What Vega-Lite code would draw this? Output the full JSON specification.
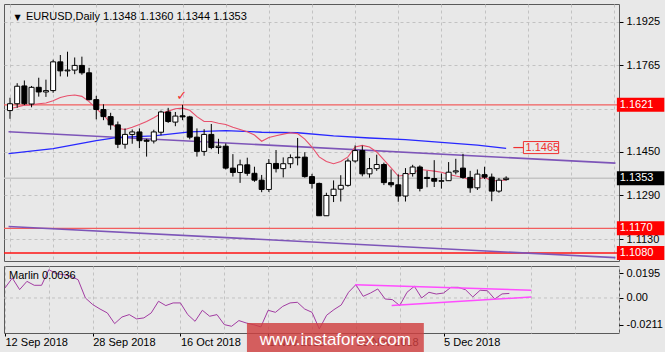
{
"$schema": "https://vega.github.io/schema/vega-lite/v6.json",
"background": "#e8e8e8",
"padding": {"left": 2, "top": 3, "right": 0, "bottom": 0},
"spacing": 3,
"config": {
  "view": {"stroke": "#5a5a5a", "strokeWidth": 1},
  "font": "Liberation Sans",
  "axis": {"labelFont": "Liberation Sans", "labelFontSize": 11, "labelColor": "#000000", "tickColor": "#000000", "title": null}
},
"datasets": {
  "bars": [
    {"i":0,"o":1.1600,"h":1.1647,"l":1.1570,"c":1.1625,"ma":1.1607},
    {"i":1,"o":1.1625,"h":1.1700,"l":1.1610,"c":1.1689,"ma":1.1613},
    {"i":2,"o":1.1690,"h":1.1710,"l":1.1620,"c":1.1625,"ma":1.1620},
    {"i":3,"o":1.1624,"h":1.1690,"l":1.1612,"c":1.1685,"ma":1.1621},
    {"i":4,"o":1.1685,"h":1.1720,"l":1.1651,"c":1.1668,"ma":1.1625},
    {"i":5,"o":1.1668,"h":1.1713,"l":1.1650,"c":1.1673,"ma":1.1628},
    {"i":6,"o":1.1673,"h":1.1786,"l":1.1665,"c":1.1778,"ma":1.1636},
    {"i":7,"o":1.1778,"h":1.1803,"l":1.1725,"c":1.1745,"ma":1.1648},
    {"i":8,"o":1.1745,"h":1.1815,"l":1.1724,"c":1.1748,"ma":1.1654},
    {"i":9,"o":1.1748,"h":1.1794,"l":1.1733,"c":1.1765,"ma":1.1657},
    {"i":10,"o":1.1765,"h":1.1797,"l":1.1731,"c":1.1738,"ma":1.1652},
    {"i":11,"o":1.1738,"h":1.1756,"l":1.1637,"c":1.1640,"ma":1.1633},
    {"i":12,"o":1.1640,"h":1.1654,"l":1.1568,"c":1.1604,"ma":1.1607},
    {"i":13,"o":1.1604,"h":1.1623,"l":1.1565,"c":1.1578,"ma":1.1584},
    {"i":14,"o":1.1578,"h":1.1592,"l":1.1530,"c":1.1548,"ma":1.1554},
    {"i":15,"o":1.1548,"h":1.1560,"l":1.1463,"c":1.1477,"ma":1.1535},
    {"i":16,"o":1.1477,"h":1.1535,"l":1.1461,"c":1.1513,"ma":1.1531},
    {"i":17,"o":1.1513,"h":1.1531,"l":1.1479,"c":1.1522,"ma":1.1539},
    {"i":18,"o":1.1522,"h":1.1535,"l":1.1463,"c":1.1490,"ma":1.1549},
    {"i":19,"o":1.1492,"h":1.1497,"l":1.1432,"c":1.1488,"ma":1.1560},
    {"i":20,"o":1.1489,"h":1.1530,"l":1.1480,"c":1.1522,"ma":1.1574},
    {"i":21,"o":1.1521,"h":1.1600,"l":1.1510,"c":1.1595,"ma":1.1589},
    {"i":22,"o":1.1595,"h":1.1610,"l":1.1555,"c":1.1560,"ma":1.1598},
    {"i":23,"o":1.1558,"h":1.1595,"l":1.1543,"c":1.1580,"ma":1.1607},
    {"i":24,"o":1.1581,"h":1.1621,"l":1.1565,"c":1.1577,"ma":1.1609},
    {"i":25,"o":1.1577,"h":1.1581,"l":1.1495,"c":1.1503,"ma":1.1601},
    {"i":26,"o":1.1503,"h":1.1535,"l":1.1432,"c":1.1451,"ma":1.1578},
    {"i":27,"o":1.1451,"h":1.1532,"l":1.1435,"c":1.1513,"ma":1.1560},
    {"i":28,"o":1.1513,"h":1.1551,"l":1.1459,"c":1.1465,"ma":1.1560},
    {"i":29,"o":1.1465,"h":1.1497,"l":1.1442,"c":1.1470,"ma":1.1554},
    {"i":30,"o":1.1470,"h":1.1480,"l":1.1385,"c":1.1390,"ma":1.1549},
    {"i":31,"o":1.1390,"h":1.1441,"l":1.1359,"c":1.1374,"ma":1.1539},
    {"i":32,"o":1.1374,"h":1.1421,"l":1.1336,"c":1.1402,"ma":1.1531},
    {"i":33,"o":1.1402,"h":1.1428,"l":1.1362,"c":1.1371,"ma":1.1523},
    {"i":34,"o":1.1371,"h":1.1395,"l":1.1340,"c":1.1346,"ma":1.1511},
    {"i":35,"o":1.1346,"h":1.1365,"l":1.1302,"c":1.1312,"ma":1.1488},
    {"i":36,"o":1.1312,"h":1.1423,"l":1.1303,"c":1.1407,"ma":1.1502},
    {"i":37,"o":1.1407,"h":1.1456,"l":1.1374,"c":1.1388,"ma":1.1508},
    {"i":38,"o":1.1388,"h":1.1429,"l":1.1356,"c":1.1406,"ma":1.1514},
    {"i":39,"o":1.1406,"h":1.1440,"l":1.1390,"c":1.1428,"ma":1.1519},
    {"i":40,"o":1.1428,"h":1.1500,"l":1.1400,"c":1.1430,"ma":1.1516},
    {"i":41,"o":1.1430,"h":1.1448,"l":1.1355,"c":1.1359,"ma":1.1496},
    {"i":42,"o":1.1359,"h":1.1369,"l":1.1315,"c":1.1334,"ma":1.1467},
    {"i":43,"o":1.1334,"h":1.1337,"l":1.1215,"c":1.1216,"ma":1.1431},
    {"i":44,"o":1.1216,"h":1.1300,"l":1.1216,"c":1.1290,"ma":1.1414},
    {"i":45,"o":1.1290,"h":1.1345,"l":1.1266,"c":1.1313,"ma":1.1406},
    {"i":46,"o":1.1313,"h":1.1364,"l":1.1268,"c":1.1327,"ma":1.1414},
    {"i":47,"o":1.1327,"h":1.1425,"l":1.1322,"c":1.1416,"ma":1.1431},
    {"i":48,"o":1.1416,"h":1.1473,"l":1.1410,"c":1.1454,"ma":1.1467},
    {"i":49,"o":1.1454,"h":1.1472,"l":1.1360,"c":1.1369,"ma":1.1473},
    {"i":50,"o":1.1369,"h":1.1427,"l":1.1355,"c":1.1388,"ma":1.1467},
    {"i":51,"o":1.1388,"h":1.1439,"l":1.1380,"c":1.1403,"ma":1.1449},
    {"i":52,"o":1.1403,"h":1.1410,"l":1.1328,"c":1.1337,"ma":1.1420},
    {"i":53,"o":1.1337,"h":1.1385,"l":1.1320,"c":1.1329,"ma":1.1391},
    {"i":54,"o":1.1329,"h":1.1367,"l":1.1267,"c":1.1288,"ma":1.1361},
    {"i":55,"o":1.1288,"h":1.1390,"l":1.1268,"c":1.1370,"ma":1.1364},
    {"i":56,"o":1.1370,"h":1.1402,"l":1.1359,"c":1.1394,"ma":1.1373},
    {"i":57,"o":1.1394,"h":1.1400,"l":1.1305,"c":1.1316,"ma":1.1385},
    {"i":58,"o":1.1356,"h":1.1380,"l":1.1320,"c":1.1352,"ma":1.1382},
    {"i":59,"o":1.1352,"h":1.1419,"l":1.1321,"c":1.1342,"ma":1.1379},
    {"i":60,"o":1.1342,"h":1.1370,"l":1.1315,"c":1.1344,"ma":1.1375},
    {"i":61,"o":1.1344,"h":1.1412,"l":1.1343,"c":1.1375,"ma":1.1367},
    {"i":62,"o":1.1376,"h":1.1424,"l":1.1367,"c":1.1380,"ma":1.1361},
    {"i":63,"o":1.1390,"h":1.1442,"l":1.1351,"c":1.1356,"ma":1.1356},
    {"i":64,"o":1.1356,"h":1.1380,"l":1.1300,"c":1.1318,"ma":1.1347},
    {"i":65,"o":1.1318,"h":1.1385,"l":1.1310,"c":1.1368,"ma":1.1350},
    {"i":66,"o":1.1366,"h":1.1395,"l":1.1350,"c":1.1357,"ma":1.1356},
    {"i":67,"o":1.1357,"h":1.1370,"l":1.1269,"c":1.1306,"ma":1.1344},
    {"i":68,"o":1.1306,"h":1.1354,"l":1.1300,"c":1.1346,"ma":1.1344},
    {"i":69,"o":1.1348,"h":1.1360,"l":1.1344,"c":1.1353,"ma":1.1347}
  ],
  "blue": [
    {"i":-0.2,"v":1.1443},{"i":6,"v":1.1461},{"i":12,"v":1.1490},{"i":15,"v":1.1502},
    {"i":20,"v":1.1508},{"i":25,"v":1.1522},{"i":30,"v":1.1527},{"i":35,"v":1.1521},
    {"i":40,"v":1.1519},{"i":45,"v":1.1508},{"i":50,"v":1.1500},{"i":55,"v":1.1494},
    {"i":60,"v":1.1484},{"i":65,"v":1.1474},{"i":69,"v":1.1462}
  ],
  "chan": [
    {"g":"u","i":-0.2,"v":1.1523},{"g":"u","i":84.2,"v":1.1408},
    {"g":"l","i":-0.2,"v":1.1177},{"g":"l","i":84.2,"v":1.1063}
  ],
  "levels": [
    {"v":1.1353,"k":"bid"},{"v":1.1621,"k":"r"},{"v":1.1170,"k":"r"},{"v":1.1080,"k":"rr"}
  ],
  "tags": [
    {"v":1.1621,"t":"1.1621","k":"red"},{"v":1.1353,"t":"1.1353","k":"black"},
    {"v":1.1170,"t":"1.1170","k":"red"},{"v":1.1080,"t":"1.1080","k":"red"}
  ],
  "osc": [
    {"i":0,"m":0.0079},{"i":1,"m":0.0157},{"i":2,"m":0.0066},{"i":3,"m":0.0131},{"i":4,"m":0.0100},
    {"i":5,"m":0.0100},{"i":6,"m":0.0223},{"i":7,"m":0.0192},{"i":8,"m":0.0184},{"i":9,"m":0.0171},
    {"i":10,"m":0.0144},{"i":11,"m":0.0000},{"i":12,"m":-0.0052},{"i":13,"m":-0.0087},{"i":14,"m":-0.0118},
    {"i":15,"m":-0.0202},{"i":16,"m":-0.0150},{"i":17,"m":-0.0131},{"i":18,"m":-0.0165},{"i":19,"m":-0.0157},
    {"i":20,"m":-0.0118},{"i":21,"m":-0.0026},{"i":22,"m":-0.0060},{"i":23,"m":-0.0039},{"i":24,"m":-0.0039},
    {"i":25,"m":-0.0131},{"i":26,"m":-0.0184},{"i":27,"m":-0.0097},{"i":28,"m":-0.0144},{"i":29,"m":-0.0131},
    {"i":30,"m":-0.0210},{"i":31,"m":-0.0223},{"i":32,"m":-0.0178},{"i":33,"m":-0.0197},{"i":34,"m":-0.0210},
    {"i":35,"m":-0.0228},{"i":36,"m":-0.0097},{"i":37,"m":-0.0113},{"i":38,"m":-0.0066},{"i":39,"m":-0.0039},
    {"i":40,"m":-0.0034},{"i":41,"m":-0.0087},{"i":42,"m":-0.0113},{"i":43,"m":-0.0244},{"i":44,"m":-0.0136},
    {"i":45,"m":-0.0092},{"i":46,"m":-0.0055},{"i":47,"m":0.0045},{"i":48,"m":0.0105},{"i":49,"m":0.0013},
    {"i":50,"m":0.0039},{"i":51,"m":0.0071},{"i":52,"m":-0.0008},{"i":53,"m":-0.0013},{"i":54,"m":-0.0060},
    {"i":55,"m":0.0045},{"i":56,"m":0.0092},{"i":57,"m":0.0000},{"i":58,"m":0.0045},{"i":59,"m":0.0031},
    {"i":60,"m":0.0039},{"i":61,"m":0.0084},{"i":62,"m":0.0084},{"i":63,"m":0.0065},{"i":64,"m":0.0008},
    {"i":65,"m":0.0061},{"i":66,"m":0.0057},{"i":67,"m":-0.0008},{"i":68,"m":0.0032},{"i":69,"m":0.0036}
  ],
  "trend": [
    {"g":"u","i":47.9,"v":0.0105},{"g":"u","i":72.0,"v":0.0061},
    {"g":"l","i":52.9,"v":-0.0060},{"g":"l","i":72.0,"v":0.0008}
  ]
},
"vconcat": [
  {
    "width": 615, "height": 257,
    "layer": [
      {"data": {"name": "levels"},
       "mark": {"type": "rule", "strokeWidth": 1.3},
       "encoding": {
         "y": {"field": "v", "type": "quantitative", "scale": {"domain": [1.1069, 1.1971], "nice": false, "zero": false},
               "axis": {"orient": "right", "values": [1.1925, 1.1765, 1.1605, 1.145, 1.129, 1.113], "tickCount": 20,
                        "labelExpr": "abs(datum.value - 1.1605) < 0.0001 ? '' : format(datum.value, '.4f')",
                        "grid": true, "gridColor": "#c2c2c2", "gridDash": [3, 3], "domain": false, "tickSize": 4,
                        "labelPadding": 3, "title": null, "labelOverlap": false, "labelFlush": false, "labelBound": false}},
         "color": {"condition": [{"test": "datum.k == 'bid'", "value": "#c4c4c4"}, {"test": "datum.k == 'rr'", "value": "#ff1414"}], "value": "#f25e5e"}
       }},
      {"data": {"name": "chan"},
       "mark": {"type": "line", "clip": true, "strokeWidth": 1.6, "color": "#7d55b8"},
       "encoding": {
         "x": {"field": "i", "type": "quantitative", "scale": {"domain": [-0.137, 84.0], "nice": false, "zero": false},
               "axis": {"values": [0,6,12,18,24,30,36,42,48,54,60,66,72,78,84], "tickCount": 30, "labels": false, "ticks": false, "domain": false,
                        "grid": true, "gridColor": "#c2c2c2", "gridDash": [3, 3], "title": null, "minExtent": 0, "maxExtent": 0}},
         "y": {"field": "v", "type": "quantitative", "scale": {"domain": [1.1069, 1.1971], "nice": false, "zero": false}},
         "detail": {"field": "g"}
       }},
      {"data": {"name": "blue"},
       "mark": {"type": "line", "clip": true, "strokeWidth": 1.3, "color": "#2828ff"},
       "encoding": {
         "x": {"field": "i", "type": "quantitative", "scale": {"domain": [-0.137, 84.0], "nice": false, "zero": false}},
         "y": {"field": "v", "type": "quantitative", "scale": {"domain": [1.1069, 1.1971], "nice": false, "zero": false}}
       }},
      {"data": {"name": "bars"},
       "mark": {"type": "line", "clip": true, "strokeWidth": 1.1, "color": "#e8506c"},
       "encoding": {
         "x": {"field": "i", "type": "quantitative", "scale": {"domain": [-0.137, 84.0], "nice": false, "zero": false}},
         "y": {"field": "ma", "type": "quantitative", "scale": {"domain": [1.1069, 1.1971], "nice": false, "zero": false}}
       }},
      {"data": {"name": "bars"},
       "mark": {"type": "rule", "clip": true, "strokeWidth": 1, "color": "#000000"},
       "encoding": {
         "x": {"field": "i", "type": "quantitative", "scale": {"domain": [-0.137, 84.0], "nice": false, "zero": false}},
         "y": {"field": "l", "type": "quantitative", "scale": {"domain": [1.1069, 1.1971], "nice": false, "zero": false}},
         "y2": {"field": "h"}
       }},
      {"data": {"name": "bars"},
       "mark": {"type": "bar", "clip": true, "size": 5, "stroke": "#000000", "strokeWidth": 1},
       "encoding": {
         "x": {"field": "i", "type": "quantitative", "scale": {"domain": [-0.137, 84.0], "nice": false, "zero": false}},
         "y": {"field": "o", "type": "quantitative", "scale": {"domain": [1.1069, 1.1971], "nice": false, "zero": false}},
         "y2": {"field": "c"},
         "fill": {"condition": {"test": "datum.c >= datum.o", "value": "#ffffff"}, "value": "#000000"}
       }},
      {"data": {"values": [{}]},
       "mark": {"type": "rule", "color": "#f03030", "strokeWidth": 1.2},
       "encoding": {
         "x": {"datum": 70.0, "type": "quantitative", "scale": {"domain": [-0.137, 84.0], "nice": false, "zero": false}},
         "x2": {"datum": 71.4},
         "y": {"datum": 1.1465, "type": "quantitative", "scale": {"domain": [1.1069, 1.1971], "nice": false, "zero": false}}
       }},
      {"data": {"values": [{}]},
       "mark": {"type": "rect", "fill": "#e8e8e8", "stroke": "#f03030", "strokeWidth": 1},
       "encoding": {
         "x": {"datum": 71.4, "type": "quantitative", "scale": {"domain": [-0.137, 84.0], "nice": false, "zero": false}},
         "x2": {"datum": 76.3},
         "y": {"datum": 1.1487, "type": "quantitative", "scale": {"domain": [1.1069, 1.1971], "nice": false, "zero": false}},
         "y2": {"datum": 1.1443}
       }},
      {"data": {"values": [{}]},
       "mark": {"type": "text", "align": "left", "baseline": "middle", "font": "Liberation Sans", "fontSize": 11, "color": "#f03030"},
       "encoding": {
         "x": {"datum": 71.7, "type": "quantitative", "scale": {"domain": [-0.137, 84.0], "nice": false, "zero": false}},
         "y": {"datum": 1.1465, "type": "quantitative", "scale": {"domain": [1.1069, 1.1971], "nice": false, "zero": false}},
         "text": {"value": "1.1465"}
       }},
      {"data": {"values": [{}]},
       "mark": {"type": "text", "align": "center", "baseline": "middle", "font": "DejaVu Sans", "fontSize": 13, "color": "#f03030"},
       "encoding": {
         "x": {"datum": 23.87, "type": "quantitative", "scale": {"domain": [-0.137, 84.0], "nice": false, "zero": false}},
         "y": {"datum": 1.1652, "type": "quantitative", "scale": {"domain": [1.1069, 1.1971], "nice": false, "zero": false}},
         "text": {"value": "✓"}
       }},
      {"data": {"values": [{}]},
       "mark": {"type": "text", "align": "center", "baseline": "middle", "font": "DejaVu Sans", "fontSize": 8, "color": "#000000"},
       "encoding": {
         "x": {"datum": 1.07, "type": "quantitative", "scale": {"domain": [-0.137, 84.0], "nice": false, "zero": false}},
         "y": {"datum": 1.1939, "type": "quantitative", "scale": {"domain": [1.1069, 1.1971], "nice": false, "zero": false}},
         "text": {"value": "▼"}
       }},
      {"data": {"values": [{}]},
       "mark": {"type": "text", "align": "left", "baseline": "middle", "font": "Liberation Sans", "fontSize": 11, "color": "#000000"},
       "encoding": {
         "x": {"datum": 2.23, "type": "quantitative", "scale": {"domain": [-0.137, 84.0], "nice": false, "zero": false}},
         "y": {"datum": 1.1940, "type": "quantitative", "scale": {"domain": [1.1069, 1.1971], "nice": false, "zero": false}},
         "text": {"value": "EURUSD,Daily  1.1348 1.1360 1.1344 1.1353"}
       }},
      {"data": {"name": "tags"},
       "mark": {"type": "bar", "size": 14, "clip": false},
       "encoding": {
         "x": {"datum": 84.4, "type": "quantitative", "scale": {"domain": [-0.137, 84.0], "nice": false, "zero": false}},
         "x2": {"datum": 91.0},
         "y": {"field": "v", "type": "quantitative", "scale": {"domain": [1.1069, 1.1971], "nice": false, "zero": false}},
         "fill": {"condition": {"test": "datum.k == 'red'", "value": "#ff0000"}, "value": "#000000"}
       }},
      {"data": {"name": "tags"},
       "mark": {"type": "text", "align": "left", "baseline": "middle", "font": "Liberation Sans", "fontSize": 11, "color": "#ffffff", "clip": false},
       "encoding": {
         "x": {"datum": 84.8, "type": "quantitative", "scale": {"domain": [-0.137, 84.0], "nice": false, "zero": false}},
         "y": {"field": "v", "type": "quantitative", "scale": {"domain": [1.1069, 1.1971], "nice": false, "zero": false}},
         "text": {"field": "t"}
       }}
    ]
  },
  {
    "width": 615, "height": 67,
    "layer": [
      {"data": {"values": [{}]},
       "mark": {"type": "rule", "color": "#c2c2c2", "strokeWidth": 1, "strokeDash": [3, 3]},
       "encoding": {
         "y": {"datum": 0, "type": "quantitative", "scale": {"domain": [-0.0276, 0.0252], "nice": false, "zero": false}}
       }},
      {"data": {"name": "osc"},
       "mark": {"type": "line", "clip": true, "strokeWidth": 1, "color": "#a23ca2"},
       "encoding": {
         "x": {"field": "i", "type": "quantitative", "scale": {"domain": [-0.137, 84.0], "nice": false, "zero": false},
               "axis": {"values": [0,6,12,18,24,30,36,42,48,54,60,66,72,78,84], "tickCount": 30, "grid": true, "gridColor": "#c2c2c2", "gridDash": [3, 3],
                        "domain": false, "tickSize": 3,
                        "tickOpacity": {"condition": {"test": "datum.value % 12 == 0 && datum.value <= 60", "value": 1}, "value": 0},
                        "labelExpr": "(datum.value % 12 == 0 && datum.value <= 60) ? ['12 Sep 2018','28 Sep 2018','16 Oct 2018','1 Nov 2018','19 Nov 2018','5 Dec 2018'][datum.value / 12] : ''",
                        "labelAlign": "left", "labelBaseline": "top", "labelPadding": 0, "labelOverlap": false, "labelFlush": false, "labelBound": false, "title": null}},
         "y": {"field": "m", "type": "quantitative", "scale": {"domain": [-0.0276, 0.0252], "nice": false, "zero": false},
               "axis": {"orient": "right", "values": [0.0195, 0, -0.0211], "tickCount": 10,
                        "labelExpr": "datum.value > 0.01 ? '0.0195' : (datum.value < -0.01 ? '-0.0211' : '0.00')",
                        "grid": false, "domain": false, "tickSize": 4, "labelPadding": 3, "title": null,
                        "labelOverlap": false, "labelFlush": false, "labelBound": false}}
       }},
      {"data": {"name": "trend"},
       "mark": {"type": "line", "clip": true, "strokeWidth": 1.5, "color": "#ff4cff"},
       "encoding": {
         "x": {"field": "i", "type": "quantitative", "scale": {"domain": [-0.137, 84.0], "nice": false, "zero": false}},
         "y": {"field": "v", "type": "quantitative", "scale": {"domain": [-0.0276, 0.0252], "nice": false, "zero": false}},
         "detail": {"field": "g"}
       }},
      {"data": {"values": [{}]},
       "mark": {"type": "text", "align": "left", "baseline": "middle", "font": "Liberation Sans", "fontSize": 11, "color": "#000000"},
       "encoding": {
         "x": {"datum": 0.55, "type": "quantitative", "scale": {"domain": [-0.137, 84.0], "nice": false, "zero": false}},
         "y": {"datum": 0.0177, "type": "quantitative", "scale": {"domain": [-0.0276, 0.0252], "nice": false, "zero": false}},
         "text": {"value": "Marlin 0.0036"}
       }},
      {"data": {"values": [{}]},
       "mark": {"type": "rect", "clip": false, "fill": "#cf3f3f", "opacity": 0.82},
       "encoding": {
         "x": {"datum": 33.1, "type": "quantitative", "scale": {"domain": [-0.137, 84.0], "nice": false, "zero": false}},
         "x2": {"datum": 57.3},
         "y": {"datum": -0.0197, "type": "quantitative", "scale": {"domain": [-0.0276, 0.0252], "nice": false, "zero": false}},
         "y2": {"datum": -0.0449}
       }},
      {"data": {"values": [{}]},
       "mark": {"type": "text", "clip": false, "align": "center", "baseline": "middle", "font": "Liberation Sans", "fontSize": 17, "color": "#ffffff"},
       "encoding": {
         "x": {"datum": 45.2, "type": "quantitative", "scale": {"domain": [-0.137, 84.0], "nice": false, "zero": false}},
         "y": {"datum": -0.0331, "type": "quantitative", "scale": {"domain": [-0.0276, 0.0252], "nice": false, "zero": false}},
         "text": {"value": "www.instaforex.com"}
       }}
    ]
  }
]
}
